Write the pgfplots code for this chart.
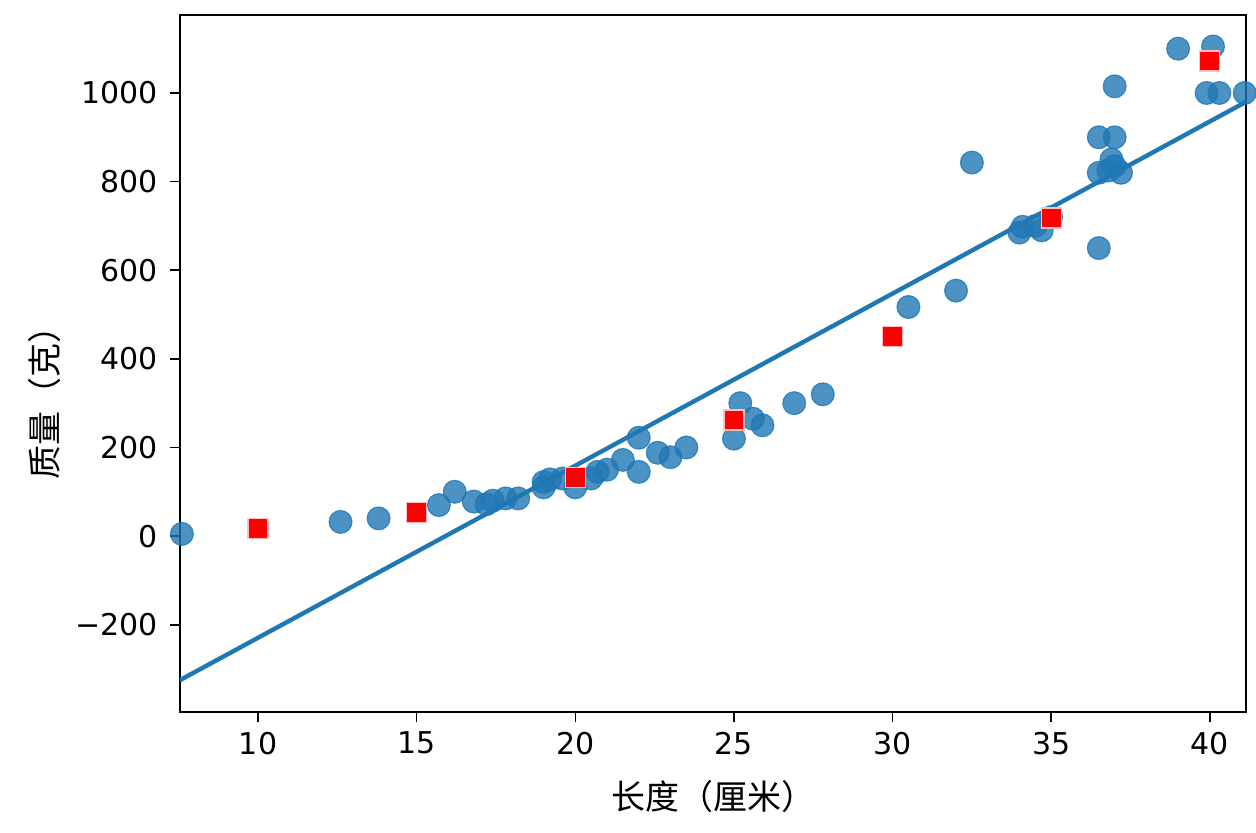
\documentclass[border=0pt]{standalone}
\usepackage{fontspec}
\setmainfont{DejaVu Sans}
\newfontfamily\cjk{Noto Sans CJK SC}
\usepackage{pgfplots}
\pgfplotsset{compat=1.18}
\definecolor{mplblue}{RGB}{31,119,180}

\begin{document}
\begin{tikzpicture}
\useasboundingbox (-90pt,-60pt) rectangle (538pt,356pt);
\begin{axis}[
    at={(0pt,0pt)}, anchor=south west,
    scale only axis,
    width=533pt, height=348.5pt,
    xmin=7.54, xmax=41.14,
    ymin=-397, ymax=1176,
    xtick={10,15,20,25,30,35,40},
    ytick={-200,0,200,400,600,800,1000},
    yticklabels={−200,0,200,400,600,800,1000},
    tick align=outside,
    xtick pos=bottom, ytick pos=left,
    major tick length=5pt,
    axis line style={line width=0.8pt},
    every tick/.style={black, line width=0.8pt},
    tick label style={font=\fontsize{15}{17}\selectfont},
    /pgf/number format/assume math mode=true,
    xticklabel style={yshift=-1.5pt},
    yticklabel style={xshift=-2.5pt},
    xlabel={\cjk 长度（厘米）},
    ylabel={\cjk 质量（克）},
    label style={font=\fontsize{17}{19}\selectfont},
    xlabel style={at={(axis description cs:0.5,-0.122)}, anchor=center},
    ylabel style={at={(axis description cs:-0.1266,0.455)}, anchor=center, rotate=0},
    clip=true,
]
% measured fish
\addplot[only marks, mark=*, mark size=5.7pt,
    mark options={fill=mplblue, fill opacity=0.8, draw=mplblue, draw opacity=0.8, line width=0.6pt}]
coordinates {
(7.6,5) (12.6,32) (13.8,40) (15.7,70) (16.2,100) (16.8,78) (17.2,72) (17.4,80)
(17.8,85) (18.2,85) (19.0,110) (19.0,122) (19.2,128) (19.6,130) (20.0,110)
(20.5,130) (20.7,145) (21.0,150) (21.5,172) (22.0,145) (22.0,222) (22.6,188)
(23.0,178) (23.5,200) (25.0,220) (25.2,300) (25.6,265) (25.9,250) (26.9,300)
(27.8,320) (30.5,517) (32.0,554) (32.5,843) (34.0,685) (34.1,698) (34.5,700)
(34.7,690) (35.0,720) (36.5,650) (36.5,820) (36.8,825) (37.0,835) (37.2,820)
(36.9,850) (36.5,900) (37.0,900) (37.0,1015) (39.0,1100) (40.1,1105)
(39.9,1000) (40.3,1000) (41.1,1000)
};
% regression line
\addplot[mplblue, line width=2.2pt] coordinates {(7.54,-325) (41.14,980)};
% predictions
\addplot[only marks, mark=square*, mark size=5pt,
    mark options={fill=red, draw=red!25, line width=0.6pt}]
coordinates {(10,18) (15,53) (20,132) (25,262) (30,451) (35,718) (40,1072)};
\end{axis}
\end{tikzpicture}
\end{document}
